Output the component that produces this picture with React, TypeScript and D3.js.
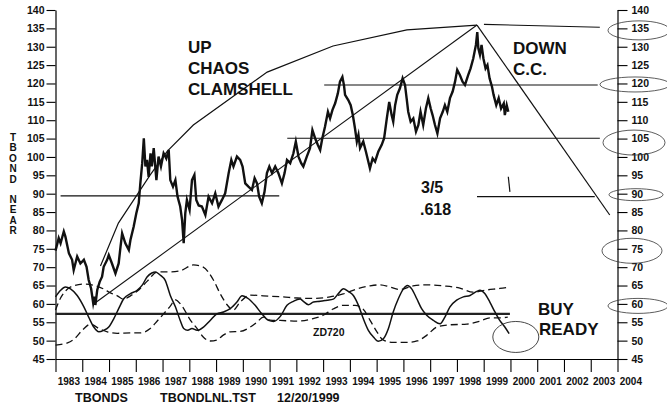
import { useEffect, useRef } from 'react'
import * as d3 from 'd3'

type Pt = [number, number]

const W = 667
const H = 406

const priceTicks = d3.range(45, 141, 5)
const yearTicks = d3.range(1983, 2005)

// TBOND near, [year, price]
const tbond: Pt[] = [
  [1983.0, 74.5], [1983.04, 75.6], [1983.12, 77.9], [1983.19, 76.5], [1983.31, 79.7], [1983.37, 78.3],
  [1983.5, 73.8], [1983.62, 72], [1983.68, 69.2], [1983.81, 72.9], [1983.93, 71], [1984.06, 72],
  [1984.16, 70.1], [1984.24, 66.5], [1984.33, 64.2], [1984.41, 60.2], [1984.46, 62], [1984.49, 59.7],
  [1984.56, 63.8], [1984.65, 66], [1984.74, 67.4], [1984.8, 70.1], [1984.93, 72], [1984.99, 73.3],
  [1985.11, 71], [1985.24, 68.3], [1985.36, 71], [1985.43, 75.6], [1985.49, 79.2], [1985.61, 76.5],
  [1985.74, 74.7], [1985.8, 77.4], [1985.92, 81], [1986.02, 84.7], [1986.11, 87.4], [1986.17, 92.8],
  [1986.24, 98.3], [1986.3, 105.1], [1986.36, 97.4], [1986.42, 99.2], [1986.48, 94.6], [1986.55, 101],
  [1986.6, 97.4], [1986.67, 102.4], [1986.77, 93.7], [1986.85, 100.1], [1986.94, 97.4], [1987.04, 101],
  [1987.14, 99.6], [1987.23, 101.9], [1987.29, 93.7], [1987.39, 91.9], [1987.48, 93.7], [1987.56, 89.2],
  [1987.66, 86.5], [1987.73, 82.8], [1987.79, 76.5], [1987.85, 84.7], [1987.91, 88.3], [1988.01, 85.6],
  [1988.1, 93.7], [1988.19, 95.1], [1988.26, 88.3], [1988.35, 86.8], [1988.47, 86.5], [1988.6, 84.2],
  [1988.72, 89.2], [1988.85, 87.4], [1988.97, 90.1], [1989.09, 86.5], [1989.22, 88.3], [1989.34, 90.1],
  [1989.47, 95.6], [1989.57, 99.2], [1989.65, 97.4], [1989.78, 100.1], [1989.9, 99.2], [1989.99, 97.4],
  [1990.09, 92.8], [1990.21, 91.9], [1990.34, 91], [1990.44, 94.2], [1990.53, 92.8], [1990.61, 89.2],
  [1990.71, 87.4], [1990.81, 90.5], [1990.9, 95.6], [1990.99, 97.4], [1991.09, 95.6], [1991.21, 97.4],
  [1991.33, 95.6], [1991.46, 92.8], [1991.56, 95.6], [1991.65, 99.2], [1991.77, 98.3], [1991.89, 101],
  [1991.98, 104.2], [1992.08, 100.1], [1992.18, 98.3], [1992.26, 97.4], [1992.39, 100.1], [1992.51, 102.4],
  [1992.6, 107.3], [1992.7, 105.1], [1992.8, 103.3], [1992.89, 101.9], [1992.97, 105.1], [1993.07, 108.2],
  [1993.18, 112.3], [1993.26, 110.5], [1993.35, 112.8], [1993.45, 114.6], [1993.55, 117.3], [1993.63, 120.5],
  [1993.72, 121.8], [1993.78, 119.5], [1993.82, 116.9], [1993.94, 115.5], [1994.03, 114.1], [1994.11, 111.4],
  [1994.19, 107.8], [1994.26, 104.2], [1994.32, 106], [1994.38, 102.4], [1994.5, 104.2], [1994.6, 101.4],
  [1994.69, 98.7], [1994.75, 96.9], [1994.85, 99.6], [1994.94, 98.7], [1995.06, 101.4], [1995.19, 103.3],
  [1995.28, 105.1], [1995.38, 110.5], [1995.47, 115], [1995.56, 111.4], [1995.62, 109.6], [1995.69, 114.1],
  [1995.77, 116.9], [1995.87, 118.7], [1995.97, 121.4], [1996.06, 119.6], [1996.12, 116], [1996.18, 112.3],
  [1996.27, 109.6], [1996.37, 110.5], [1996.47, 106.9], [1996.56, 108.7], [1996.64, 112.3], [1996.74, 108.7],
  [1996.84, 113.2], [1996.93, 116], [1997.02, 113.2], [1997.09, 111.4], [1997.18, 108.7], [1997.27, 106.4],
  [1997.37, 110.5], [1997.47, 112.3], [1997.55, 114.1], [1997.64, 112.3], [1997.74, 116], [1997.84, 117.8],
  [1997.93, 120.5], [1998.01, 123.7], [1998.11, 122.3], [1998.21, 120.5], [1998.3, 119.6], [1998.42, 122.3],
  [1998.51, 124.1], [1998.61, 126.8], [1998.71, 130.5], [1998.76, 134], [1998.8, 129.6], [1998.86, 127.8],
  [1998.92, 130.5], [1998.99, 126.8], [1999.07, 124.1], [1999.14, 125], [1999.22, 121.4], [1999.31, 119.1],
  [1999.37, 116.9], [1999.47, 114.1], [1999.56, 116], [1999.65, 113.2], [1999.75, 114.6], [1999.79, 111.4],
  [1999.86, 114.1], [1999.92, 112.3],
]

// ZD720 oscillator
const zd720: Pt[] = [
  [1983.0, 61.9], [1983.19, 63.7], [1983.37, 64.6], [1983.56, 64.1], [1983.81, 62.3], [1984.06, 59.2],
  [1984.24, 56.4], [1984.43, 53.7], [1984.62, 52.4], [1984.8, 52.8], [1984.99, 53.7], [1985.18, 56],
  [1985.36, 58.7], [1985.55, 61.4], [1985.8, 62.8], [1986.05, 63.7], [1986.24, 65.1], [1986.42, 67.3],
  [1986.6, 68.4], [1986.73, 68.7], [1986.92, 67.8], [1987.1, 66.4], [1987.29, 62.3], [1987.48, 59.2],
  [1987.66, 55.5], [1987.79, 53.3], [1987.94, 52.8], [1988.1, 53.3], [1988.29, 52.8], [1988.53, 53.7],
  [1988.78, 55.5], [1989.03, 57.3], [1989.28, 57.8], [1989.53, 58.7], [1989.78, 60.5], [1989.97, 62.2],
  [1990.21, 61.4], [1990.46, 59.6], [1990.71, 57.3], [1990.96, 55.5], [1991.15, 55.2], [1991.4, 56.6],
  [1991.65, 59.6], [1991.89, 60.7], [1992.14, 61.3], [1992.26, 60.7], [1992.45, 59.8], [1992.64, 60.5],
  [1992.89, 60.7], [1993.14, 61], [1993.38, 61.3], [1993.57, 62.8], [1993.76, 64.1], [1993.94, 63.4],
  [1994.13, 62.3], [1994.32, 59.6], [1994.5, 56], [1994.69, 52.8], [1994.88, 51], [1995.06, 49.8],
  [1995.25, 50.5], [1995.44, 53.3], [1995.62, 57.8], [1995.81, 61.4], [1996.0, 64.1], [1996.15, 65],
  [1996.31, 64.1], [1996.5, 61.4], [1996.68, 58.7], [1996.87, 56.9], [1997.12, 55.5], [1997.37, 54.6],
  [1997.55, 56.4], [1997.74, 59.2], [1997.99, 61], [1998.24, 61.9], [1998.49, 62.3], [1998.74, 63.4],
  [1998.86, 63.7], [1999.04, 62.8], [1999.23, 60.5], [1999.42, 57.8], [1999.6, 55.5], [1999.79, 53.7],
  [1999.95, 51.9],
]

const upperBand: Pt[] = [
  [1983.0, 58.3], [1983.19, 61.6], [1983.41, 63.8], [1983.67, 64.9], [1984.04, 65.4], [1984.42, 65.1],
  [1984.79, 64.1], [1985.05, 63], [1985.31, 62.2], [1985.54, 61.3], [1985.8, 62.2], [1986.06, 63.5],
  [1986.43, 66.2], [1986.81, 68.7], [1987.29, 68.7], [1987.66, 69], [1988.15, 70.6], [1988.52, 70],
  [1988.9, 66.5], [1989.16, 62.7], [1989.42, 59.7], [1989.64, 58.3], [1989.9, 60.5], [1990.28, 62.4],
  [1990.76, 62.2], [1991.51, 61.9], [1992.03, 61.6], [1992.63, 61.5], [1993.26, 61.9], [1993.75, 62.7],
  [1994.27, 64.1], [1994.75, 64.9], [1995.13, 65.2], [1995.5, 64.6], [1995.87, 63.9], [1996.36, 64.9],
  [1996.88, 65.2], [1997.48, 64.9], [1998.11, 64.3], [1998.6, 63.2], [1999.12, 63.8], [1999.6, 64.2],
  [1999.98, 64.6],
]

const lowerBand: Pt[] = [
  [1983.0, 48.8], [1983.45, 49.4], [1983.71, 50.5], [1984.01, 52.9], [1984.31, 54.5], [1984.6, 53.4],
  [1984.94, 52.4], [1985.31, 52], [1985.8, 52.1], [1986.17, 52.1], [1986.54, 53.3], [1986.81, 55.4],
  [1987.1, 57.8], [1987.29, 59.4], [1987.48, 61.1], [1987.7, 59.7], [1988.04, 55.6], [1988.3, 53.2],
  [1988.52, 51], [1988.78, 49.9], [1989.04, 50.2], [1989.27, 51.5], [1989.53, 52.4], [1989.9, 52.5],
  [1990.28, 53.7], [1990.54, 55.1], [1990.76, 56.4], [1991.02, 55.6], [1991.4, 55.5], [1992.03, 55.3],
  [1992.63, 56], [1993.0, 56.9], [1993.37, 58.6], [1993.75, 59.6], [1994.19, 59.6], [1994.49, 58.6],
  [1994.75, 55.6], [1995.01, 52.4], [1995.24, 50.2], [1995.61, 49.5], [1996.13, 49.5], [1996.51, 49.9],
  [1996.88, 51.5], [1997.25, 53.7], [1997.74, 54.3], [1998.37, 54.5], [1998.86, 55.3], [1999.23, 56.2],
  [1999.6, 56.2], [1999.9, 56.4],
]

const buyLevel = { value: 57.3, from: 1983.0, to: 1999.98 }

// horizontal support / resistance levels
const levels = [
  { value: 89.4, from: 1983.19, to: 1991.36 },
  { value: 105.1, from: 1991.66, to: 2003.34 },
  { value: 119.6, from: 1993.04, to: 2003.26 },
  { value: 89.2, from: 1998.75, to: 2003.15 },
]

const clamshellUp: Pt[] = [
  [1984.68, 70.3], [1985.35, 82], [1986.54, 95.1], [1987.18, 101.6], [1988.15, 108.7],
  [1990.91, 123.1], [1993.37, 130.2], [1996.13, 134.6], [1998.75, 135.9],
]
const trendUp: Pt[] = [[1984.49, 60.3], [1998.75, 135.9]]
const clamshellDown: Pt[] = [[1998.75, 135.9], [2003.71, 84.2]]
const topLine: Pt[] = [[1999.01, 136.1], [2003.34, 135.3]]
const tickMark: Pt[] = [[1999.92, 94.6], [1999.98, 90.5]]

const circled = [
  { value: 135, cx: 639, dy: 2, rx: 31, ry: 9.5 },
  { value: 120, cx: 635, dy: 1, rx: 35, ry: 7.5 },
  { value: 105, cx: 634, dy: 4, rx: 31, ry: 12.5 },
  { value: 90, cx: 636, dy: 1, rx: 27, ry: 6 },
  { value: 75, cx: 632, dy: 2, rx: 30, ry: 12.5 },
  { value: 60, cx: 638, dy: 2, rx: 30, ry: 7.5 },
]
const buyCircle = { year: 2000.2, value: 51, rx: 23, ry: 15.5 }

const FONT = '"Liberation Sans", Arial, Helvetica, sans-serif'

export default function App() {
  const leftRef = useRef<SVGGElement>(null)
  const rightRef = useRef<SVGGElement>(null)
  const bottomRef = useRef<SVGGElement>(null)

  const x = d3.scaleLinear().domain([1983, 2004]).range([55.5, 617.5])
  const y = d3.scaleLinear().domain([45, 140]).range([359, 10])

  const line = d3.line<Pt>().x(d => x(d[0])).y(d => y(d[1]))
  const smooth = d3.line<Pt>().x(d => x(d[0])).y(d => y(d[1])).curve(d3.curveMonotoneX)

  useEffect(() => {
    const style = (g: d3.Selection<SVGGElement, unknown, null, undefined>) => {
      g.attr('font-family', FONT).attr('font-size', 10.5).attr('font-weight', 'bold')
      g.selectAll('line').attr('stroke', '#000').attr('stroke-width', 1.1)
      g.selectAll('path').attr('stroke', '#000').attr('stroke-width', 1.2)
      g.selectAll('text').attr('fill', '#111')
    }
    if (leftRef.current) {
      const g = d3.select(leftRef.current)
      g.selectAll('*').remove()
      g.call(d3.axisLeft(y).tickValues(priceTicks).tickSize(9).tickSizeOuter(0).tickPadding(2))
      style(g)
    }
    if (rightRef.current) {
      const g = d3.select(rightRef.current)
      g.selectAll('*').remove()
      g.call(d3.axisRight(y).tickValues(priceTicks).tickSize(10).tickSizeOuter(0).tickPadding(4))
      style(g)
    }
    if (bottomRef.current) {
      const g = d3.select(bottomRef.current)
      g.selectAll('*').remove()
      g.call(d3.axisBottom(x).tickValues(yearTicks).tickSize(13).tickSizeOuter(0).tickFormat(() => ''))
      style(g)
    }
  }, [])

  const big = { fontFamily: FONT, fontWeight: 'bold' as const, fontSize: 17, fill: '#111' }

  return (
    <svg width={W} height={H} style={{ position: 'absolute', left: 0, top: 0, background: '#fff' }}>
      <rect width={W} height={H} fill="#fff" />

      <g ref={bottomRef} transform={`translate(0,${y(45)})`} />
      <g ref={leftRef} transform={`translate(${x(1983)},0)`} />
      <g ref={rightRef} transform={`translate(${x(2004)},0)`} />

      {yearTicks.map(yr => (
        <text key={yr} x={x(yr + 0.5)} y={385} textAnchor="middle"
          fontFamily={FONT} fontSize={10} fontWeight="bold" fill="#111">{yr}</text>
      ))}

      <text x={12} textAnchor="middle" fontFamily={FONT} fontSize={10} fontWeight="bold" fill="#111">
        {'TBOND'.split('').map((c, i) => (
          <tspan key={'a' + i} x={13} y={141 + i * 10.4}>{c}</tspan>
        ))}
        {'NEAR'.split('').map((c, i) => (
          <tspan key={'b' + i} x={13} y={203 + i * 10.4}>{c}</tspan>
        ))}
      </text>

      {/* level lines */}
      {levels.map((l, i) => (
        <line key={i} x1={x(l.from)} x2={x(l.to)} y1={y(l.value)} y2={y(l.value)} stroke="#111" strokeWidth={1.1} />
      ))}

      {/* chaos clamshell */}
      <path d={line(clamshellUp) ?? ''} fill="none" stroke="#111" strokeWidth={1.2} />
      <path d={line(trendUp) ?? ''} fill="none" stroke="#111" strokeWidth={1.1} />
      <path d={line(clamshellDown) ?? ''} fill="none" stroke="#111" strokeWidth={1.2} />
      <path d={line(topLine) ?? ''} fill="none" stroke="#111" strokeWidth={1.1} />
      <path d={line(tickMark) ?? ''} fill="none" stroke="#111" strokeWidth={1.2} />

      {/* price, drawn heavy like the dense daily trace */}
      <path d={line(tbond) ?? ''} fill="none" stroke="#111" strokeWidth={2.4} strokeLinejoin="miter" strokeMiterlimit={6} />

      {/* oscillator */}
      <line x1={x(buyLevel.from)} x2={x(buyLevel.to)} y1={y(buyLevel.value)} y2={y(buyLevel.value)}
        stroke="#222" strokeWidth={2.2} />
      <path d={smooth(upperBand) ?? ''} fill="none" stroke="#111" strokeWidth={1.3} strokeDasharray="7,4" />
      <path d={smooth(lowerBand) ?? ''} fill="none" stroke="#111" strokeWidth={1.3} strokeDasharray="7,4" />
      <path d={smooth(zd720) ?? ''} fill="none" stroke="#111" strokeWidth={1.5} />

      {/* circled levels */}
      {circled.map(c => (
        <ellipse key={c.value} cx={c.cx} cy={y(c.value) + c.dy} rx={c.rx} ry={c.ry}
          fill="none" stroke="#333" strokeWidth={0.8} />
      ))}
      <ellipse cx={x(buyCircle.year)} cy={y(buyCircle.value)} rx={buyCircle.rx} ry={buyCircle.ry}
        fill="none" stroke="#333" strokeWidth={0.9} />

      {/* annotations */}
      <text x={188} y={53} {...big}>UP</text>
      <text x={188} y={74} {...big}>CHAOS</text>
      <text x={188} y={95} {...big}>CLAMSHELL</text>
      <text x={513} y={54} {...big}>DOWN</text>
      <text x={513} y={75} {...big}>C.C.</text>
      <text x={421} y={193} {...big} fontSize={16}>3/5</text>
      <text x={420} y={215} {...big} fontSize={16}>.618</text>
      <text x={538} y={315} {...big}>BUY</text>
      <text x={539} y={335} {...big}>READY</text>
      <text x={313} y={336} fontFamily={FONT} fontWeight="bold" fontSize={10.5} fill="#111">ZD720</text>

      <text x={75} y={402} fontFamily={FONT} fontWeight="bold" fontSize={12.5} fill="#111">TBONDS</text>
      <text x={160} y={402} fontFamily={FONT} fontWeight="bold" fontSize={12.5} fill="#111">TBONDLNL.TST</text>
      <text x={277} y={402} fontFamily={FONT} fontWeight="bold" fontSize={12.5} fill="#111">12/20/1999</text>
    </svg>
  )
}
